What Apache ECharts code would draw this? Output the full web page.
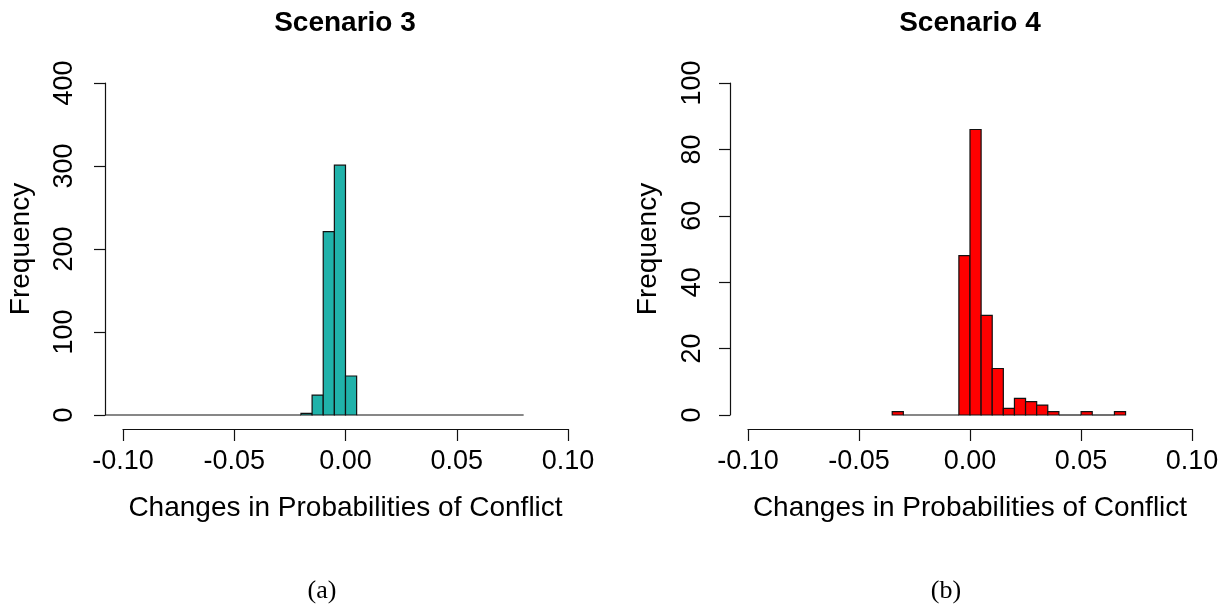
<!DOCTYPE html>
<html>
<head>
<meta charset="utf-8">
<script src="https://cdn.jsdelivr.net/npm/echarts@6/dist/echarts.min.js"></script>
<style>
html,body{margin:0;padding:0;background:#fff;}
#chart{width:1225px;height:605px;}
</style>
</head>
<body>
<div id="chart"></div>
<script>
// ---- data ----
const titles = ['Scenario 3', 'Scenario 4'];
const captions = ['(a)', '(b)'];
const xAxisTitle = 'Changes in Probabilities of Conflict';
const yAxisTitle = 'Frequency';
// histogram breaks (bin edges) and counts
const s3Breaks = [-0.11, -0.02, -0.015, -0.01, -0.005, 0, 0.005, 0.08];
const s3Counts = [0, 2, 24, 221, 301, 47, 0];
const s4Breaks = [-0.035, -0.03, -0.005, 0, 0.005, 0.01, 0.015, 0.02, 0.025, 0.03, 0.035, 0.04, 0.05, 0.055, 0.065, 0.07];
const s4Counts = [1, 0, 48, 86, 30, 14, 2, 5, 4, 3, 1, 0, 1, 0, 1];
const xTicks = [-0.10, -0.05, 0.00, 0.05, 0.10];
const s3YTicks = [0, 100, 200, 300, 400];
const s4YTicks = [0, 20, 40, 60, 80, 100];

function toBins(breaks, counts) {
  return counts.map((c, i) => [breaks[i], breaks[i + 1], c]);
}

function makeRender(color) {
  return function (params, api) {
    const x0 = api.value(0), x1 = api.value(1), c = api.value(2);
    const p0 = api.coord([x0, c]);
    const p1 = api.coord([x1, 0]);
    const cs = params.coordSys;
    const left = Math.max(p0[0], cs.x);
    const right = Math.min(p1[0], cs.x + cs.width);
    if (c === 0) {
      return {
        type: 'line',
        shape: { x1: left, y1: p1[1], x2: right, y2: p1[1] },
        style: { stroke: '#111', lineWidth: 1.2 }
      };
    }
    return {
      type: 'rect',
      shape: { x: left, y: p0[1], width: right - left, height: p1[1] - p0[1] },
      style: { fill: color, stroke: '#111', lineWidth: 1.2 }
    };
  };
}

const FONT = 'Liberation Sans, Arial, sans-serif';
const axisLineStyle = { color: '#111', width: 1.2 };

function xFmt(v) { if (Math.abs(v) < 1e-9) v = 0; return v.toFixed(2); }

function bottomAxis(gi, xMin, xMax) {
  return { type: 'value', gridIndex: gi, min: xMin, max: xMax, interval: 0.05,
    axisLine: { show: true, onZero: false, lineStyle: axisLineStyle },
    axisTick: { show: true, length: 12, lineStyle: axisLineStyle },
    splitLine: { show: false },
    axisLabel: { margin: 19, fontFamily: FONT, fontSize: 27, color: '#000', formatter: xFmt },
    name: xAxisTitle, nameLocation: 'middle', nameGap: 65,
    nameTextStyle: { fontFamily: FONT, fontSize: 28, color: '#000' } };
}
function leftAxis(gi, ticks, labelMargin, nameGap) {
  return { type: 'value', gridIndex: gi, min: ticks[0], max: ticks[ticks.length - 1], interval: ticks[1] - ticks[0],
    axisLine: { show: true, onZero: false, lineStyle: axisLineStyle },
    axisTick: { show: true, length: 11, lineStyle: axisLineStyle },
    splitLine: { show: false },
    axisLabel: { rotate: 90, margin: labelMargin, fontFamily: FONT, fontSize: 27, color: '#000' },
    name: yAxisTitle, nameLocation: 'middle', nameRotate: 90, nameGap: nameGap,
    nameTextStyle: { fontFamily: FONT, fontSize: 28, color: '#000' } };
}

const chart = echarts.init(document.getElementById('chart'), null, { renderer: 'canvas' });

const captionFont = '26px "Liberation Serif", "Times New Roman", serif';

const option = {
  backgroundColor: '#fff',
  animation: false,
  title: [
    { text: titles[0], left: 345, top: 9, textAlign: 'center', padding: 0,
      textStyle: { fontFamily: FONT, fontWeight: 'bold', fontSize: 28, color: '#000' } },
    { text: titles[1], left: 970, top: 9, textAlign: 'center', padding: 0,
      textStyle: { fontFamily: FONT, fontWeight: 'bold', fontSize: 28, color: '#000' } }
  ],
  grid: [
    { left: 105, top: 83, width: 481, height: 332 },
    { left: 123, top: 428, width: 445, height: 1 },
    { left: 730, top: 83, width: 480, height: 332 },
    { left: 748, top: 428, width: 444, height: 1 }
  ],
  xAxis: [
    { type: 'value', gridIndex: 0, min: -0.108, max: 0.108, show: false },
    bottomAxis(1, xTicks[0], xTicks[xTicks.length - 1]),
    { type: 'value', gridIndex: 2, min: -0.108, max: 0.108, show: false },
    bottomAxis(3, xTicks[0], xTicks[xTicks.length - 1])
  ],
  yAxis: [
    leftAxis(0, s3YTicks, 27, 70),
    { type: 'value', gridIndex: 1, show: false },
    leftAxis(2, s4YTicks, 24, 68),
    { type: 'value', gridIndex: 3, show: false }
  ],
  series: [
    { type: 'custom', xAxisIndex: 0, yAxisIndex: 0, renderItem: makeRender('#20B2AA'),
      encode: { x: [0, 1], y: 2 }, data: toBins(s3Breaks, s3Counts), clip: false },
    { type: 'custom', xAxisIndex: 2, yAxisIndex: 2, renderItem: makeRender('#FF0000'),
      encode: { x: [0, 1], y: 2 }, data: toBins(s4Breaks, s4Counts), clip: false }
  ],
  graphic: [
    { type: 'text', x: 322, y: 591, style: { text: captions[0], font: captionFont, fill: '#000', textAlign: 'center', textVerticalAlign: 'middle' } },
    { type: 'text', x: 946, y: 591, style: { text: captions[1], font: captionFont, fill: '#000', textAlign: 'center', textVerticalAlign: 'middle' } }
  ]
};
chart.setOption(option);
</script>
</body>
</html>
